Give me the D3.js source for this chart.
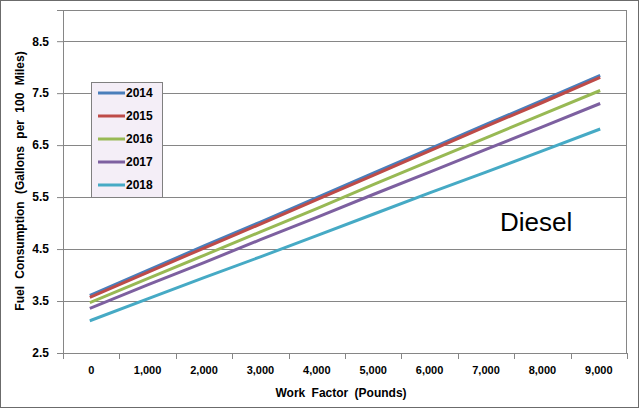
<!DOCTYPE html>
<html>
<head>
<meta charset="utf-8">
<script src="https://cdn.jsdelivr.net/npm/d3@7"></script>
<style>
  body { margin: 0; background: #fff; }
  svg { display: block; font-family: Arial, "Liberation Sans", sans-serif; }
</style>
</head>
<body>
<div id="chart"></div>
<script>
// Work factor categories (pounds)
const workFactors = [0, 1000, 2000, 3000, 4000, 5000, 6000, 7000, 8000, 9000];
const years = ["2014", "2015", "2016", "2017", "2018"];
const yTicks = [2.5, 3.5, 4.5, 5.5, 6.5, 7.5, 8.5];

// Fuel consumption
const fuel2014 = [3.62, 4.09, 4.56, 5.02, 5.49, 5.96, 6.43, 6.90, 7.36, 7.83];
const fuel2015 = [3.58, 4.05, 4.52, 4.98, 5.45, 5.92, 6.39, 6.86, 7.32, 7.79];
const fuel2016 = [3.48, 3.93, 4.38, 4.83, 5.28, 5.74, 6.19, 6.64, 7.09, 7.54];
const fuel2017 = [3.37, 3.81, 4.24, 4.68, 5.11, 5.55, 5.98, 6.42, 6.85, 7.29];
const fuel2018 = [3.13, 3.54, 3.95, 4.35, 4.76, 5.17, 5.58, 5.98, 6.39, 6.80];

const colors = ["#4a7ebb", "#be4b48", "#98b954", "#7d60a0", "#46aac5"];

const series = [fuel2014, fuel2015, fuel2016, fuel2017, fuel2018];

const width = 640, height = 409;
const margin = { top: 10, right: 13, bottom: 56, left: 63 };
const innerW = width - margin.left - margin.right;
const innerH = height - margin.top - margin.bottom;

const svg = d3.select("#chart")
    .append("svg")
    .attr("width", width)
    .attr("height", height);

// Outer chart border
svg.append("rect")
    .attr("x", 0.5).attr("y", 0.5)
    .attr("width", width - 2).attr("height", height - 2)
    .attr("fill", "#fff")
    .attr("stroke", "#6b6b6b");

const g = svg.append("g")
    .attr("transform", `translate(${margin.left},${margin.top})`);

// Scales
const x = d3.scaleBand()
    .domain(workFactors)
    .range([0, innerW]);

const y = d3.scaleLinear()
    .domain([2.5, 9.1])
    .range([innerH, 0]);

// Gridlines
g.append("g")
    .selectAll("line")
    .data(yTicks)
    .enter()
    .append("line")
    .attr("x1", 0)
    .attr("x2", innerW)
    .attr("y1", d => Math.round(y(d)) + 0.5)
    .attr("y2", d => Math.round(y(d)) + 0.5)
    .attr("stroke", "#868686");

// Plot border
g.append("rect")
    .attr("x", 0.5).attr("y", 0.5)
    .attr("width", innerW - 1).attr("height", innerH)
    .attr("fill", "none")
    .attr("stroke", "#868686");

// Y axis
const yAxis = g.append("g")
    .call(d3.axisLeft(y).tickValues(yTicks).tickFormat(d3.format(".1f")).tickSize(6).tickPadding(8));
yAxis.select(".domain").attr("stroke", "#868686");
yAxis.selectAll(".tick line").attr("stroke", "#868686");
yAxis.selectAll("text")
    .attr("font-size", "12px")
    .attr("font-weight", "bold")
    .attr("fill", "#000");

// X axis, ticks at band edges
const xAxisG = g.append("g")
    .attr("transform", `translate(0,${innerH})`);
xAxisG.append("line")
    .attr("x1", 0).attr("x2", innerW)
    .attr("y1", 0.5).attr("y2", 0.5)
    .attr("stroke", "#868686");
xAxisG.selectAll(".edge")
    .data(workFactors.concat(["end"]))
    .enter()
    .append("line")
    .attr("x1", d => Math.round(d === "end" ? innerW : x(d)) + 0.5)
    .attr("x2", d => Math.round(d === "end" ? innerW : x(d)) + 0.5)
    .attr("y1", 0)
    .attr("y2", 6)
    .attr("stroke", "#868686");
xAxisG.selectAll(".lbl")
    .data(workFactors)
    .enter()
    .append("text")
    .attr("x", d => x(d) + x.bandwidth() / 2)
    .attr("y", 21)
    .attr("text-anchor", "middle")
    .attr("font-size", "11px")
    .attr("font-weight", "bold")
    .text(d => d3.format(",")(d));

// Lines
const line = d3.line()
    .x((d, i) => x(workFactors[i]) + x.bandwidth() / 2)
    .y(d => y(d));

g.append("g")
    .selectAll("path")
    .data(series)
    .enter()
    .append("path")
    .attr("d", line)
    .attr("fill", "none")
    .attr("stroke", (d, i) => colors[i])
    .attr("stroke-width", 3)
    .attr("stroke-linecap", "square");

// Legend
const legend = svg.append("g")
    .attr("transform", "translate(91,82)");
legend.append("rect")
    .attr("x", 0.5).attr("y", 0.5)
    .attr("width", 71).attr("height", 115)
    .attr("fill", "#f4eef7")
    .attr("stroke", "#808080");
const item = legend.selectAll(".item")
    .data(years)
    .enter()
    .append("g")
    .attr("transform", (d, i) => `translate(0,${11 + i * 23})`);
item.append("line")
    .attr("x1", 7).attr("x2", 34)
    .attr("y1", 0).attr("y2", 0)
    .attr("stroke", (d, i) => colors[i])
    .attr("stroke-width", 3);
item.append("text")
    .attr("x", 35)
    .attr("y", 4)
    .attr("font-size", "12px")
    .attr("font-weight", "bold")
    .text(d => d);

// Axis titles
svg.append("text")
    .attr("x", 341)
    .attr("y", 397)
    .attr("text-anchor", "middle")
    .attr("font-size", "12px")
    .attr("font-weight", "bold")
    .attr("word-spacing", "3px")
    .text("Work Factor (Pounds)");

svg.append("text")
    .attr("transform", `translate(24,181) rotate(-90)`)
    .attr("text-anchor", "middle")
    .attr("font-size", "12px")
    .attr("font-weight", "bold")
    .attr("word-spacing", "4px")
    .text("Fuel Consumption (Gallons per 100 Miles)");

// Fuel type annotation
svg.append("text")
    .attr("x", 500)
    .attr("y", 231)
    .attr("font-size", "26px")
    .text("Diesel");
</script>
</body>
</html>
